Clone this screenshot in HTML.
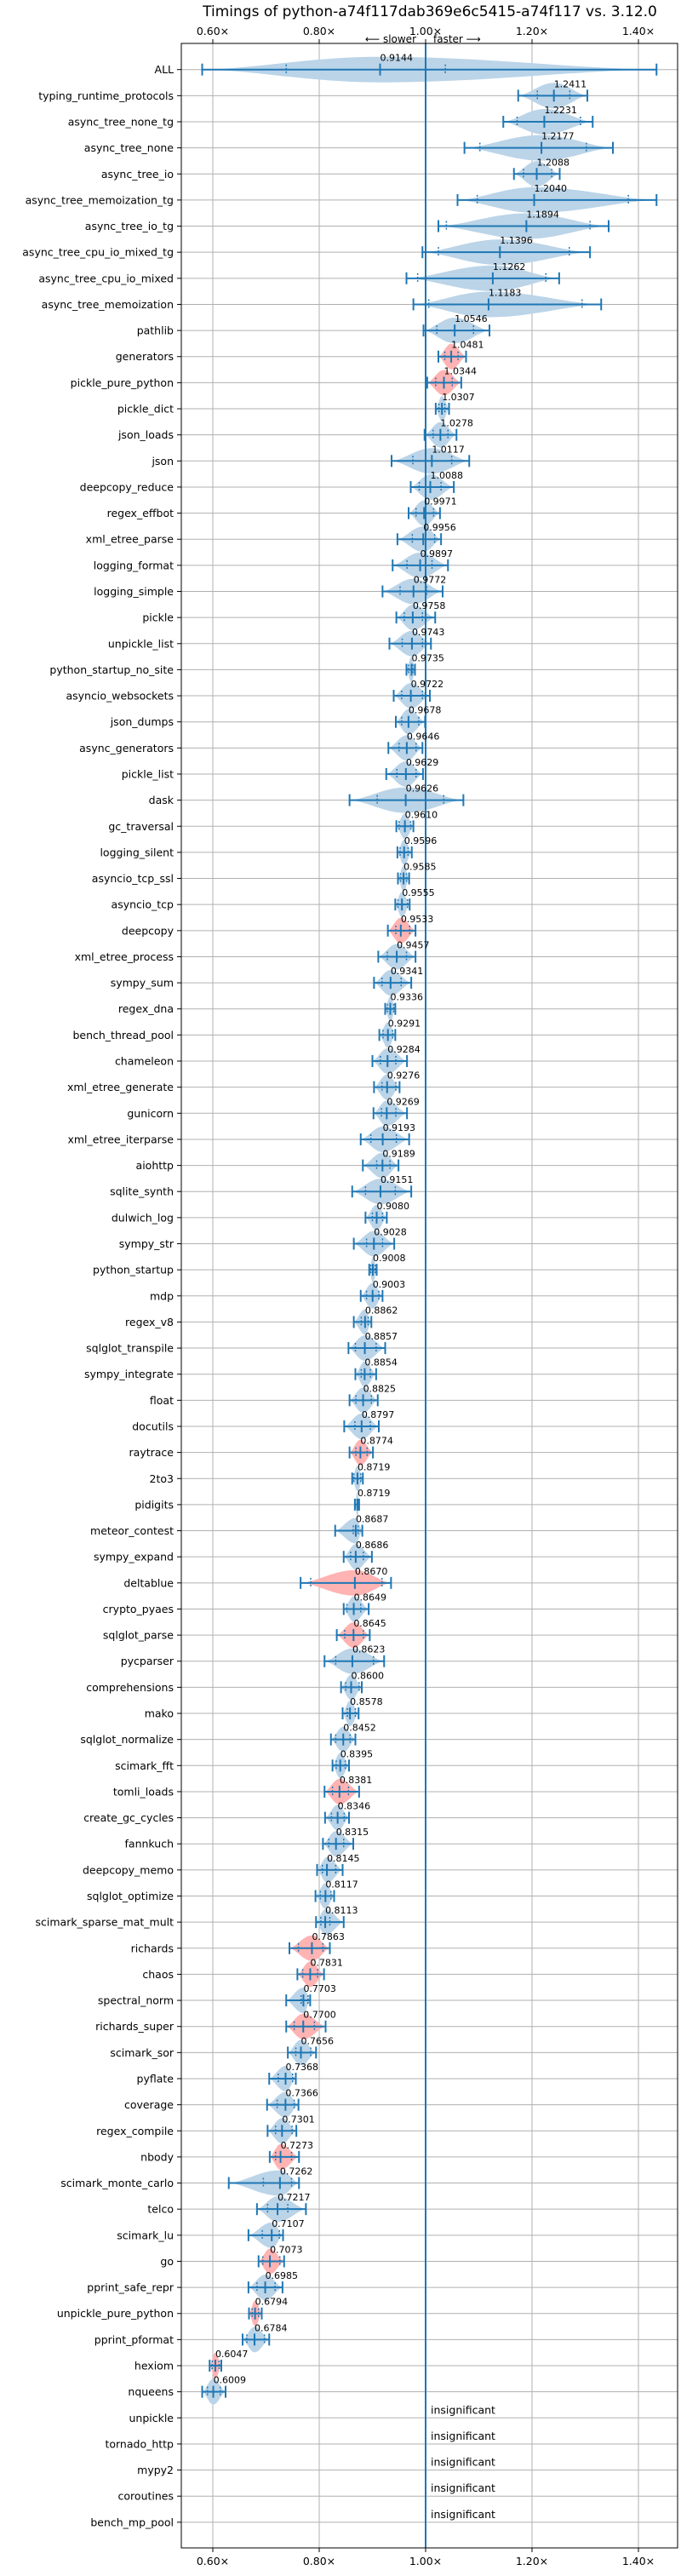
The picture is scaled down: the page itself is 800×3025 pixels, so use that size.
<!DOCTYPE html>
<html><head><meta charset="utf-8"><title>Timings</title>
<style>
html,body{margin:0;padding:0;background:#fff;}
svg text{font-family:"DejaVu Sans","Liberation Sans",sans-serif;}
</style></head>
<body>
<svg id="chart" width="800" height="3020" viewBox="0 0 800 3020" xmlns="http://www.w3.org/2000/svg">
<rect x="0" y="0" width="800" height="3020" fill="#fff"/>
<text x="505" y="19" font-size="17" text-anchor="middle" fill="#000">Timings of python-a74f117dab369e6c5415-a74f117 vs. 3.12.0</text>
<text x="489" y="50" font-size="12" text-anchor="end" fill="#000">⟵ slower</text>
<text x="509" y="50" font-size="12" text-anchor="start" fill="#000">faster ⟶</text>
<g id="grid"></g>
<g id="violins"></g>
<g id="bars"></g>
<g id="labels"></g>
</svg>
<script>
const names = ["ALL","typing_runtime_protocols","async_tree_none_tg","async_tree_none","async_tree_io","async_tree_memoization_tg","async_tree_io_tg","async_tree_cpu_io_mixed_tg","async_tree_cpu_io_mixed","async_tree_memoization","pathlib","generators","pickle_pure_python","pickle_dict","json_loads","json","deepcopy_reduce","regex_effbot","xml_etree_parse","logging_format","logging_simple","pickle","unpickle_list","python_startup_no_site","asyncio_websockets","json_dumps","async_generators","pickle_list","dask","gc_traversal","logging_silent","asyncio_tcp_ssl","asyncio_tcp","deepcopy","xml_etree_process","sympy_sum","regex_dna","bench_thread_pool","chameleon","xml_etree_generate","gunicorn","xml_etree_iterparse","aiohttp","sqlite_synth","dulwich_log","sympy_str","python_startup","mdp","regex_v8","sqlglot_transpile","sympy_integrate","float","docutils","raytrace","2to3","pidigits","meteor_contest","sympy_expand","deltablue","crypto_pyaes","sqlglot_parse","pycparser","comprehensions","mako","sqlglot_normalize","scimark_fft","tomli_loads","create_gc_cycles","fannkuch","deepcopy_memo","sqlglot_optimize","scimark_sparse_mat_mult","richards","chaos","spectral_norm","richards_super","scimark_sor","pyflate","coverage","regex_compile","nbody","scimark_monte_carlo","telco","scimark_lu","go","pprint_safe_repr","unpickle_pure_python","pprint_pformat","hexiom","nqueens","unpickle","tornado_http","mypy2","coroutines","bench_mp_pool"];
const medians = [0.9144,1.2411,1.2231,1.2177,1.2088,1.2040,1.1894,1.1396,1.1262,1.1183,1.0546,1.0481,1.0344,1.0307,1.0278,1.0117,1.0088,0.9971,0.9956,0.9897,0.9772,0.9758,0.9743,0.9735,0.9722,0.9678,0.9646,0.9629,0.9626,0.9610,0.9596,0.9585,0.9555,0.9533,0.9457,0.9341,0.9336,0.9291,0.9284,0.9276,0.9269,0.9193,0.9189,0.9151,0.9080,0.9028,0.9008,0.9003,0.8862,0.8857,0.8854,0.8825,0.8797,0.8774,0.8719,0.8719,0.8687,0.8686,0.8670,0.8649,0.8645,0.8623,0.8600,0.8578,0.8452,0.8395,0.8381,0.8346,0.8315,0.8145,0.8117,0.8113,0.7863,0.7831,0.7703,0.7700,0.7656,0.7368,0.7366,0.7301,0.7273,0.7262,0.7217,0.7107,0.7073,0.6985,0.6794,0.6784,0.6047,0.6009,null,null,null,null,null];
const mins = [0.580,1.174,1.146,1.073,1.166,1.060,1.024,0.994,0.964,0.977,0.996,1.024,1.003,1.019,0.998,0.936,0.972,0.968,0.947,0.938,0.919,0.945,0.932,0.964,0.940,0.944,0.930,0.926,0.857,0.945,0.947,0.948,0.943,0.929,0.911,0.903,0.924,0.913,0.900,0.903,0.902,0.878,0.882,0.862,0.887,0.865,0.894,0.878,0.865,0.855,0.868,0.857,0.847,0.857,0.862,0.867,0.830,0.846,0.765,0.846,0.833,0.810,0.841,0.844,0.822,0.825,0.810,0.811,0.807,0.796,0.793,0.794,0.744,0.759,0.738,0.738,0.741,0.706,0.702,0.703,0.707,0.630,0.683,0.667,0.686,0.667,0.668,0.656,0.594,0.580,null,null,null,null,null];
const maxs = [1.434,1.304,1.314,1.352,1.252,1.434,1.344,1.309,1.251,1.330,1.120,1.076,1.067,1.044,1.058,1.082,1.053,1.027,1.029,1.042,1.032,1.018,1.010,0.980,1.008,0.999,0.994,0.995,1.071,0.977,0.974,0.969,0.970,0.981,0.981,0.973,0.943,0.943,0.965,0.951,0.965,0.969,0.949,0.973,0.927,0.941,0.908,0.919,0.898,0.924,0.907,0.910,0.912,0.901,0.882,0.875,0.881,0.899,0.935,0.893,0.895,0.922,0.880,0.874,0.868,0.856,0.875,0.856,0.864,0.844,0.828,0.846,0.820,0.809,0.783,0.812,0.794,0.756,0.761,0.757,0.762,0.762,0.775,0.732,0.734,0.731,0.692,0.706,0.616,0.624,null,null,null,null,null];
const q1s = [0.738,1.210,1.172,1.102,1.184,1.097,1.039,1.024,0.985,1.006,1.021,1.036,1.019,1.025,1.014,0.976,0.988,0.982,0.975,0.965,0.952,0.960,0.956,0.968,0.955,0.955,0.950,0.946,0.909,0.950,0.952,0.953,0.948,0.944,0.928,0.918,0.928,0.920,0.915,0.918,0.917,0.897,0.908,0.887,0.900,0.889,0.897,0.889,0.879,0.868,0.879,0.869,0.867,0.869,0.865,0.868,0.864,0.859,0.784,0.852,0.848,0.831,0.850,0.853,0.831,0.832,0.825,0.823,0.818,0.806,0.802,0.803,0.761,0.769,0.766,0.753,0.756,0.723,0.721,0.718,0.718,0.695,0.703,0.693,0.694,0.683,0.674,0.664,0.599,0.590,null,null,null,null,null];
const q3s = [1.037,1.271,1.291,1.302,1.237,1.381,1.309,1.270,1.226,1.294,1.090,1.061,1.050,1.036,1.042,1.049,1.029,1.015,1.017,1.012,1.002,0.994,0.994,0.976,0.994,0.987,0.982,0.982,1.034,0.972,0.967,0.964,0.966,0.970,0.964,0.954,0.940,0.938,0.944,0.944,0.944,0.945,0.933,0.943,0.919,0.919,0.905,0.912,0.892,0.907,0.896,0.898,0.896,0.890,0.878,0.873,0.873,0.883,0.918,0.878,0.883,0.902,0.875,0.868,0.858,0.849,0.855,0.847,0.846,0.831,0.822,0.820,0.807,0.797,0.779,0.791,0.784,0.750,0.753,0.749,0.748,0.748,0.741,0.725,0.726,0.717,0.686,0.697,0.612,0.614,null,null,null,null,null];
const slower = [0,0,0,0,0,0,0,0,0,0,0,1,1,0,0,0,0,0,0,0,0,0,0,0,0,0,0,0,0,0,0,0,0,1,0,0,0,0,0,0,0,0,0,0,0,0,0,0,0,0,0,0,0,1,0,0,0,0,1,0,1,0,0,0,0,0,1,0,0,0,0,0,1,1,0,1,0,0,0,0,1,0,0,0,1,0,1,0,1,0,0,0,0,0,0];
const xTicks = [0.6,0.8,1.0,1.2,1.4];
const xTickLabels = ["0.60×","0.80×","1.00×","1.20×","1.40×"];

const NS = "http://www.w3.org/2000/svg";
const L = 213, R = 796, T = 51, B = 2992;
const X0 = 1.0, PX0 = 500, PXU = 625;
function xs(v){ return PX0 + (v - X0) * PXU; }
const ROW0 = 81.7, ROWH = 30.64;
function ys(i){ return ROW0 + i * ROWH; }
function mk(tag, attrs, parent){
  const e = document.createElementNS(NS, tag);
  for (const k in attrs) e.setAttribute(k, attrs[k]);
  parent.appendChild(e);
  return e;
}
const grid = document.getElementById('grid');
const vio = document.getElementById('violins');
const bars = document.getElementById('bars');
const labs = document.getElementById('labels');

// horizontal gridlines + y labels
names.forEach((n, i) => {
  const y = ys(i);
  const g = mk('line', {x1:L, x2:R, y1:y, y2:y, stroke:'#b0b0b0', 'stroke-width':1}, grid);
  
  
  const tk = mk('line', {x1:L-5, x2:L, y1:y, y2:y, stroke:'#000', 'stroke-width':1}, grid);
  
  
  const t = mk('text', {x:L-9, y:y+4.5, 'font-size':12.5, 'text-anchor':'end', fill:'#000'}, labs);
  t.textContent = n;
  
  
});
// vertical gridlines + tick labels
xTicks.forEach((v, k) => {
  const x = xs(v);
  const g = mk('line', {x1:x, x2:x, y1:T, y2:B, stroke:'#b0b0b0', 'stroke-width':1}, grid);
  
  
  const t1 = mk('line', {x1:x, x2:x, y1:T-5, y2:T, stroke:'#000', 'stroke-width':1}, grid);
  
  
  const t2 = mk('line', {x1:x, x2:x, y1:B, y2:B+5, stroke:'#000', 'stroke-width':1}, grid);
  
  
  const a = mk('text', {x:x, y:41, 'font-size':12.5, 'text-anchor':'middle', fill:'#000'}, labs);
  a.textContent = xTickLabels[k];
  
  
  const b = mk('text', {x:x, y:3012, 'font-size':12.5, 'text-anchor':'middle', fill:'#000'}, labs);
  b.textContent = xTickLabels[k];
  
  
});
// frame
const fr = mk('rect', {x:L, y:T, width:R-L, height:B-T, fill:'none', stroke:'#000', 'stroke-width':1}, labs);



// violins and bars
const HALF = 15, CAP = 7;
names.forEach((n, i) => {
  const y = ys(i);
  const med = medians[i];
  if (med === null) {
    const t = mk('text', {x:xs(1.0)+6, y:y-5, 'font-size':12.5, fill:'#000'}, labs);
    t.textContent = 'insignificant';
    
    
    return;
  }
  const lo = mins[i], hi = maxs[i];
  const x1 = xs(lo), x2 = xs(hi), xm = xs(med);
  const p = Math.min(0.9, Math.max(0.1, (med - lo) / (hi - lo)));
  const N = 40, top = [], bot = [];
  for (let k = 0; k <= N; k++) {
    const t = k / N;
    const s = t < p ? t / p : (1 - t) / (1 - p);
    const h = HALF * Math.pow(Math.sin(Math.PI / 2 * s), 1.6);
    const x = x1 + (x2 - x1) * t;
    top.push(x.toFixed(1) + ',' + (y - h).toFixed(1));
    bot.unshift(x.toFixed(1) + ',' + (y + h).toFixed(1));
  }
  const path = mk('path', {d:'M' + top.join(' L') + ' L' + bot.join(' L') + 'Z',
    fill: slower[i] ? '#ffb3b3' : '#bbd4e8', stroke:'none'}, vio);
  
  
  const ln = mk('line', {x1:x1, x2:x2, y1:y, y2:y, stroke:'#1f77b4', 'stroke-width':2}, bars);
  
  
  [x1, x2, xm].forEach(x => {
    const c = mk('line', {x1:x, x2:x, y1:y-CAP, y2:y+CAP, stroke:'#1f77b4', 'stroke-width':2}, bars);
    
    
  });
  [q1s[i], q3s[i]].forEach(q => {
    const x = xs(q);
    const d = mk('line', {x1:x, x2:x, y1:y-6, y2:y+6, stroke:'#1f77b4', 'stroke-width':1.5, 'stroke-dasharray':'2,2'}, bars);
    
    
  });
  const vt = mk('text', {x:xm, y:y-10, 'font-size':11, fill:'#000'}, labs);
  vt.textContent = med.toFixed(4);
  
  
});
// reference line at 1.0
const ref = mk('line', {x1:xs(1.0), x2:xs(1.0), y1:T, y2:B, stroke:'#1f77b4', 'stroke-width':2}, bars);


const rt = mk('line', {x1:xs(1.0), x2:xs(1.0), y1:T-5, y2:T, stroke:'#000', 'stroke-width':1}, bars);


</script>
</body></html>
